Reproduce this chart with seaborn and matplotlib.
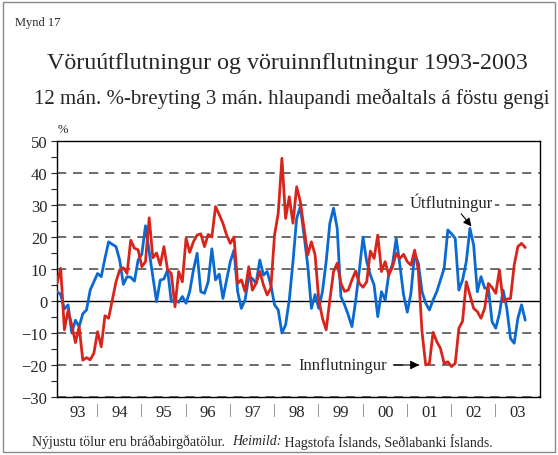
import numpy as np
import pandas as pd
import matplotlib
matplotlib.use("Agg")
import matplotlib.pyplot as plt
import matplotlib.patches as mpatches
from matplotlib.ticker import FixedLocator, MultipleLocator
import seaborn as sns

# monthly series, Feb 1993 - Sep 2003 (12 mon. % change of 3 mon. moving avg.)
start_month = "1993-02"
exports = [3, 2, -2.5, -1.2, -10, -6, -8, -4, -2.8, 3.4, 6, 8.6, 7.6, 13.3, 18.5, 17.7,
           17, 12.8, 5.2, 7.6, 7.4, 6.2, 12.8, 14.6, 23.5, 15.4, 7.6, -0.2, 6.5, 6.9,
           9.7, -0.2, 0.3, -0.4, 1.4, -0.7, 3, 9.7, 14.9,
           2.9, 2.4, 6, 16.3, 6.6, 8.4, 0.8, 6.6, 12.3, 15.9, 2.9, -2.3, 0.3, 7.6, 7,
           5.5, 12.8, 8.1, 9.2, 5, -1.2, -2.8, -10, -7.5, 0.3, 12.3, 25.8,
           29.5, 20.6, 11.2, -2.3, 2, -2.3, 3, 12.3, 24.3, 29, 22.7, 1.4, -1.2, -4.4,
           -8, 0, 9.7, 20, 12.3, 8.1, 5, -4.9,
           2.9, 0.3, 8.5, 11.5, 19.6, 11.2, 1.9, -3.5, 2.4, 14.9,
           11.8, 2.9, -0.7, -2.8, 0.3, 2.9, 6.6, 10.2, 22.2, 21, 19.6, 3.4, 6.6, 12.3,
           22.7, 17.5, 2.9, 7.6, 4, 4, -6.5, -8.5, -3.9, 3.4, -2.3, -11.7, -13.2,
           -5.4, -1.2, -6]
imports = [5.5, 10.2, -9, -3, -7.5, -13, -8, -18.5, -17.7, -18.4, -16.3, -9.6, -14.3,
           -4.6, -5.4, 0.3, 6, 9.7, 10.4, 8.6, 19, 16.5, 16, 10.7, 12.3, 26, 13.5, 15,
           11.2, 17, 9.7, 8.6, -1.8, 9.2, 6, 19.6, 15.2, 18.5, 20.6,
           21, 17, 20.8, 20, 29.5, 27, 24.3, 20.6, 18, 20, 5.5, 6.6, 3, 10.7, 3.4, 5.5,
           9.2, 5, 1.9, 4, 20.6, 27.4, 44.6, 25.8, 32.6, 24.3, 35.7,
           31, 22.7, 14.4, 18.5, 14.4, 0.3, -5.4, -9, 0.3, 9.2, 11.8, 5.5, 3, 3.4, 6.6,
           9.4, 5.5, 4.3, 6, 15.6, 13.3, 20.6,
           9.2, 12.3, 8.1, 10.7, 14.9, 13.3, 14.6, 12.3, 11.2, 15.9,
           9.7, -9.6, -20, -19.5, -9.8, -12.7, -14.8, -19.5, -19, -20.5, -19.5, -8.5,
           -6.3, 6, 1.9, -2.3, -3.3, -5.4, -2.3, 5.5, 4.2, 2.4, 9.7, -0.2, 0.6, 0.8,
           11.2, 17, 18, 16.7]
series_names = ["Útflutningur", "Innflutningur"]
series_colors = ["#0a6ad2", "#d8251c"]
year_labels = ["93", "94", "95", "96", "97", "98", "99", "00", "01", "02", "03"]
y_ticks = [-30, -20, -10, 0, 10, 20, 30, 40, 50]

dates = pd.date_range(start_month, periods=len(exports), freq="MS")
t = dates.year + (dates.month - 1) / 12
df = pd.DataFrame({"t": np.concatenate([t, t]),
                   "val": exports + imports,
                   "series": [series_names[0]] * len(exports) + [series_names[1]] * len(imports)})

sns.set_style("ticks")
plt.rcParams["font.family"] = ["Liberation Serif", "DejaVu Serif"]

W, H = 558, 456
fig = plt.figure(figsize=(W / 100, H / 100), dpi=100)
ax = fig.add_axes([57 / W, 1 - 398 / H, 483 / W, 256 / H])

x0, x1 = t[0], 2004.0
ax.set_xlim(x0, x1)
ax.set_ylim(-30, 50)

# dashed grid
for v in y_ticks:
    if v == 0:
        ax.axhline(0, color="black", lw=1.0, zorder=1)
    else:
        ax.axhline(v, color="#444444", lw=1.1, ls=(0, (6, 4.5)), zorder=1)

sns.lineplot(data=df, x="t", y="val", hue="series", palette=series_colors,
             hue_order=series_names, linewidth=2.0, legend=False, ax=ax, zorder=3)

ax.set_xlabel("")
ax.set_ylabel("")
for s in ax.spines.values():
    s.set_color("black")
    s.set_linewidth(1.0)
ax.yaxis.set_major_locator(FixedLocator(y_ticks))
ax.yaxis.set_minor_locator(MultipleLocator(5))
ax.tick_params(axis="y", which="both", direction="out", length=4, width=0.8,
               labelsize=12, pad=3)

years = np.arange(1993, 2004)
centers = [(max(y, x0) + min(y + 1, x1)) / 2 for y in years]
ax.xaxis.set_major_locator(FixedLocator(centers))
ax.set_xticklabels(year_labels)
ax.tick_params(axis="x", which="both", length=0, labelsize=12, pad=5)
for y in years[1:]:
    ax.text(y, -0.048, "|", transform=ax.get_xaxis_transform(), ha="center",
            va="center", fontsize=11, color="#777777")

ax.text(0.012, 1.025, "%", transform=ax.transAxes, fontsize=9, ha="center", va="bottom")

# annotations
box = dict(boxstyle="square,pad=0.1", fc="white", ec="none")
ax.annotate(series_names[0], xy=(2002.45, 23.3), xytext=(2002.0, 31),
            ha="center", va="center", fontsize=12, bbox=box, zorder=4,
            arrowprops=dict(arrowstyle="-|>", color="black", lw=0.8,
                            mutation_scale=12, shrinkA=1, shrinkB=0))
ax.annotate(series_names[1], xy=(2001.27, -20), xytext=(1999.55, -20),
            ha="center", va="center", fontsize=12, bbox=box, zorder=4,
            arrowprops=dict(arrowstyle="-|>", color="black", lw=0.8,
                            mutation_scale=13, shrinkA=3, shrinkB=0))

# titles
fig.text(15 / W, 1 - 23 / H, "Mynd 17", fontsize=9, ha="left", va="center")
fig.text(287 / W, 1 - 64 / H, "Vöruútflutningur og vöruinnflutningur 1993-2003",
         fontsize=17.3, ha="center", va="center")
fig.text(292 / W, 1 - 99 / H, "12 mán. %-breyting 3 mán. hlaupandi meðaltals á föstu gengi",
         fontsize=15, ha="center", va="center")

# footer with italic part
fig.canvas.draw()
r = fig.canvas.get_renderer()
xpos = 32
for txt, style in [("Nýjustu tölur eru bráðabirgðatölur.  ", "normal"),
                   ("Heimild:", "italic"),
                   (" Hagstofa Íslands, Seðlabanki Íslands.", "normal")]:
    tt = fig.text(xpos / W, 1 - 442 / H, txt, fontsize=10, style=style,
                  ha="left", va="center")
    xpos += tt.get_window_extent(r).width

# outer frame
fig.patches.append(mpatches.Rectangle((3 / W, 3 / H), 1 - 6 / W, 1 - 6 / H,
                                      transform=fig.transFigure, fill=False,
                                      edgecolor="#888888", lw=1.0))

fig.savefig("out.png", dpi=100)
